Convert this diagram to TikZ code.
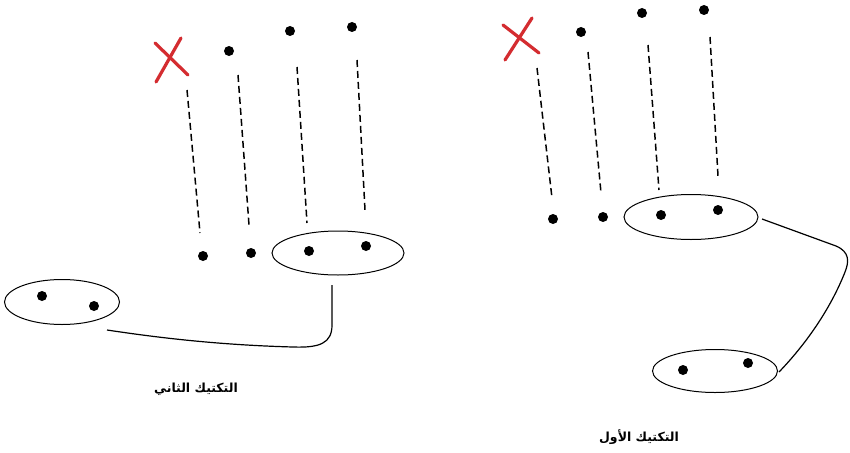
\documentclass[tikz,border=0pt]{standalone}
\usepackage{fontspec}
\usetikzlibrary{shapes.geometric}
\newfontfamily\arabicfont[Script=Arabic]{DejaVu Sans}
\TeXXeTstate=1
\definecolor{xred}{RGB}{212,44,48}
\begin{document}
\begin{tikzpicture}[x=1pt,y=-1pt,
  dot/.style={circle,fill=black,inner sep=0pt,minimum size=10pt},
  dline/.style={line width=1.5pt,dash pattern=on 7pt off 4pt},
  grp/.style={ellipse,draw=black,line width=1pt,inner sep=0pt},
  link/.style={line width=1.2pt},
  cross/.style={draw=xred,line width=3.2pt,line cap=round},
  lbl/.style={font=\arabicfont\bfseries\fontsize{12.5}{14}\selectfont,inner sep=0pt}]
\useasboundingbox[fill=white] (0,0) rectangle (850,452);
% ---------- left diagram ----------
\coordinate (lx) at (171,58);
\draw[cross] (156,82) -- (181,38);
\draw[cross] (155,43) -- (188,75);
\node[dot] (lt2) at (229,51) {};
\node[dot] (lt3) at (290,31) {};
\node[dot] (lt4) at (352,27) {};
\node[dot] (lb1) at (203,256) {};
\node[dot] (lb2) at (251,253) {};
\node[dot] (lb3) at (309,251) {};
\node[dot] (lb4) at (366,246) {};
\coordinate (l1a) at (187,90); \coordinate (l1b) at (200,233);
\coordinate (l2a) at (238,75); \coordinate (l2b) at (249,225);
\coordinate (l3a) at (297,67); \coordinate (l3b) at (307,223);
\coordinate (l4a) at (357,60); \coordinate (l4b) at (365,210);
\draw[dline] (l1a) -- (l1b);
\draw[dline] (l2a) -- (l2b);
\draw[dline] (l3a) -- (l3b);
\draw[dline] (l4a) -- (l4b);
\node[grp,minimum width=132pt,minimum height=44pt] (lg1) at (338,253) {};
\node[grp,minimum width=115pt,minimum height=45pt] (lg2) at (62,302) {};
\node[dot] (lg2a) at (42,296) {};
\node[dot] (lg2b) at (94,306) {};
\coordinate (lc1) at (332,285);
\coordinate (lc2) at (107,330);
\draw[link] (lc1) -- (332,325) .. controls (332,343) and (320,348) .. (293,347)
  .. controls (220,345) and (160,338) .. (lc2);
\node[lbl] (ltext) at (196,389) {\beginR التكتيك الثاني\endR};
% ---------- right diagram ----------
\coordinate (rx) at (521,38);
\draw[cross] (505,60) -- (532,18);
\draw[cross] (503,25) -- (539,53);
\node[dot] (rt2) at (581,32) {};
\node[dot] (rt3) at (642,13) {};
\node[dot] (rt4) at (704,10) {};
\node[dot] (rb1) at (553,219) {};
\node[dot] (rb2) at (603,217) {};
\node[dot] (rb3) at (661,215) {};
\node[dot] (rb4) at (718,210) {};
\coordinate (r1a) at (537,68); \coordinate (r1b) at (552,198);
\coordinate (r2a) at (588,52); \coordinate (r2b) at (601,193);
\coordinate (r3a) at (648,45); \coordinate (r3b) at (659,190);
\coordinate (r4a) at (710,37); \coordinate (r4b) at (718,176);
\draw[dline] (r1a) -- (r1b);
\draw[dline] (r2a) -- (r2b);
\draw[dline] (r3a) -- (r3b);
\draw[dline] (r4a) -- (r4b);
\node[grp,minimum width=134pt,minimum height=45pt] (rg1) at (691,217) {};
\node[grp,minimum width=125pt,minimum height=43pt] (rg2) at (715,371) {};
\node[dot] (rg2a) at (683,370) {};
\node[dot] (rg2b) at (748,363) {};
\coordinate (rc1) at (762,219);
\coordinate (rc2) at (779,372);
\draw[link] (rc1) -- (836,246) .. controls (850,252) and (849,262) .. (845,272)
  .. controls (830,310) and (805,345) .. (rc2);
\node[lbl] (rtext) at (639,437) {\beginR التكتيك الأول\endR};
\end{tikzpicture}
\end{document}
